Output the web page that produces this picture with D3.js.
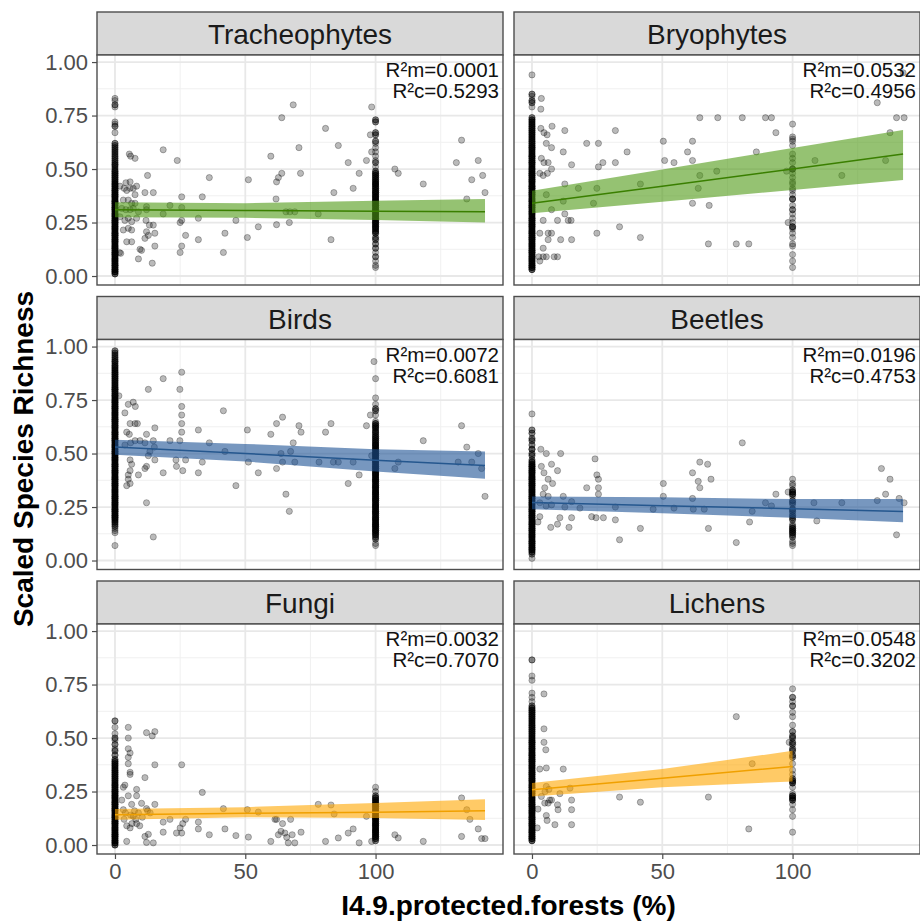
<!DOCTYPE html>
<html>
<head>
<meta charset="utf-8">
<script src="https://cdn.jsdelivr.net/npm/d3@7"></script>
<style>
  html, body { margin: 0; padding: 0; background: #ffffff; }
  svg { display: block; font-family: "Liberation Sans", Arial, sans-serif; }
</style>
</head>
<body>
<script>
// ---- Facets and annotations ----
const taxa = ["Tracheophytes", "Bryophytes", "Birds", "Beetles", "Fungi", "Lichens"];
const r2Marginal = ["0.0001", "0.0532", "0.0072", "0.0196", "0.0032", "0.0548"];
const r2Conditional = ["0.5293", "0.4956", "0.6081", "0.4753", "0.7070", "0.3202"];
const bandColors = ["green", "green", "blue", "blue", "orange", "orange"];
const xTicks = [0, 50, 100];
const xMinor = [25, 75, 125];
const yTicks = [0, 0.25, 0.5, 0.75, 1];
const yMinor = [0.125, 0.375, 0.625, 0.875];
const xTitle = "I4.9.protected.forests (%)";
const yTitle = "Scaled Species Richness";

// ---- Tracheophytes ----
// sites at 0 % and 100 %: [richness, number of sites]
const tracheoAtZero = [[0.01,3],[0.02,4],[0.03,4],[0.04,3],[0.05,4],[0.06,3],[0.07,4],[0.08,4],[0.09,3],[0.10,4],[0.11,4],[0.12,3],[0.13,4],[0.14,4],[0.15,3],[0.16,4],[0.17,4],[0.18,3],[0.19,4],[0.20,4],[0.21,3],[0.22,4],[0.23,4],[0.24,3],[0.25,4],[0.26,4],[0.27,3],[0.28,4],[0.29,4],[0.30,3],[0.31,4],[0.32,4],[0.33,3],[0.34,4],[0.35,4],[0.36,3],[0.37,4],[0.38,4],[0.39,3],[0.40,4],[0.41,3],[0.42,3],[0.43,4],[0.44,3],[0.45,3],[0.46,3],[0.47,3],[0.48,3],[0.49,3],[0.50,2],[0.51,2],[0.52,3],[0.53,2],[0.54,2],[0.55,2],[0.56,2],[0.57,2],[0.58,2],[0.59,2],[0.60,2],[0.61,2],[0.62,2],[0.67,1],[0.70,2],[0.71,1],[0.72,1],[0.79,1],[0.80,2],[0.82,1],[0.83,1]];
const tracheoAt100 = [[0.04,1],[0.05,1],[0.07,1],[0.09,2],[0.11,1],[0.13,2],[0.15,2],[0.17,2],[0.18,2],[0.20,3],[0.21,3],[0.22,3],[0.23,4],[0.24,3],[0.25,4],[0.26,3],[0.27,4],[0.28,3],[0.29,4],[0.30,3],[0.31,4],[0.32,3],[0.33,4],[0.34,3],[0.35,4],[0.36,3],[0.37,4],[0.38,3],[0.39,4],[0.40,3],[0.41,3],[0.42,3],[0.43,4],[0.44,3],[0.45,3],[0.46,3],[0.47,3],[0.48,3],[0.49,2],[0.51,1],[0.53,2],[0.54,1],[0.56,1],[0.58,1],[0.60,1],[0.62,1],[0.63,2],[0.66,2],[0.67,2],[0.72,2],[0.73,2]];
const tracheoScatter = [[5.5,0.57],[6,0.56],[7.7,0.55],[1.7,0.11],[18.5,0.59],[23.9,0.54],[12.5,0.47],[11.5,0.39],[14.7,0.39],[36.2,0.46],[33.5,0.37],[25.6,0.37],[21.1,0.33],[18.5,0.29],[25.6,0.32],[25.6,0.26],[25,0.25],[32,0.27],[27.1,0.19],[32,0.17],[25,0.11],[25.6,0.14],[15.3,0.14],[9,0.08],[14.3,0.06],[10.2,0.12],[41.6,0.11],[42.2,0.20],[46.4,0.26],[50.8,0.18],[51.2,0.45],[55,0.23],[59.8,0.56],[62,0.44],[62.7,0.46],[64,0.48],[61.8,0.36],[62,0.24],[64,0.74],[68.4,0.80],[70.6,0.60],[71.2,0.48],[65.6,0.30],[67.1,0.30],[69,0.30],[66.9,0.25],[78,0.29],[80.8,0.69],[82.9,0.17],[84,0.39],[85.7,0.61],[89.5,0.53],[91.4,0.41],[93.7,0.48],[96.5,0.54],[98.5,0.79],[98,0.66],[98.5,0.58],[107.4,0.50],[108.7,0.48],[118.3,0.43],[131,0.53],[133,0.635],[139.4,0.54],[136.9,0.45],[141.1,0.47],[142,0.39],[135,0.36],
  [1.9,0.42],[3.5,0.41],[4.5,0.40],[5.8,0.41],[7,0.41],[8.3,0.42],[3.2,0.355],[5.1,0.355],[6.4,0.34],[7.7,0.34],[2.6,0.316],[4.2,0.31],[5.8,0.31],[7,0.316],[9,0.30],[12.1,0.324],[12.1,0.31],[1.9,0.277],[3.8,0.26],[5.1,0.27],[6.4,0.254],[8.3,0.27],[11.9,0.26],[13.2,0.238],[14.7,0.238],[3.2,0.215],[5.1,0.223],[6.4,0.215],[12.1,0.207],[15.3,0.2],[4.5,0.16],[6.4,0.16],[11.5,0.176],[12.8,0.19],[9.6,0.125],[2.2,0.106],[5.8,0.44],[4.2,0.436],[7.7,0.38]];
const tracheoFitX = [0, 50, 100, 142];
const tracheoFit = [0.31, 0.306, 0.303, 0.30];
const tracheoLower = [0.275, 0.272, 0.262, 0.25];
const tracheoUpper = [0.345, 0.34, 0.352, 0.36];

// ---- Bryophytes ----
const bryoAtZero = [[0.03,3],[0.04,4],[0.05,4],[0.06,3],[0.07,4],[0.08,4],[0.09,4],[0.10,3],[0.11,4],[0.12,4],[0.13,3],[0.14,4],[0.15,4],[0.16,3],[0.17,4],[0.18,4],[0.19,3],[0.20,4],[0.21,4],[0.22,3],[0.23,4],[0.24,4],[0.25,3],[0.26,4],[0.27,4],[0.28,3],[0.29,4],[0.30,4],[0.31,3],[0.32,4],[0.33,4],[0.34,3],[0.35,4],[0.36,4],[0.37,3],[0.38,4],[0.39,4],[0.40,3],[0.41,4],[0.42,4],[0.43,3],[0.44,4],[0.45,4],[0.46,3],[0.47,4],[0.48,4],[0.49,3],[0.50,4],[0.51,3],[0.52,3],[0.53,4],[0.54,3],[0.55,3],[0.56,4],[0.57,3],[0.58,3],[0.59,3],[0.60,4],[0.61,3],[0.62,3],[0.63,3],[0.64,3],[0.65,3],[0.66,3],[0.67,3],[0.68,3],[0.69,3],[0.70,3],[0.71,3],[0.72,3],[0.73,3],[0.74,2],[0.79,1],[0.81,2],[0.82,2],[0.84,1],[0.85,2],[0.94,1]];
const bryoAt100 = [[0.04,1],[0.07,1],[0.10,1],[0.14,1],[0.15,1],[0.18,1],[0.20,1],[0.22,1],[0.23,3],[0.25,1],[0.27,1],[0.29,1],[0.31,2],[0.33,1],[0.36,3],[0.38,1],[0.40,1],[0.41,1],[0.43,1],[0.44,1],[0.46,1],[0.48,1],[0.50,3],[0.53,1],[0.55,1],[0.57,1],[0.61,1],[0.63,1],[0.64,1],[0.65,1],[0.71,1]];
const bryoScatter = [[3.6,0.83],[3.4,0.78],[7.7,0.70],[3.4,0.69],[4.6,0.67],[5.8,0.66],[12.6,0.68],[5.5,0.62],[7.5,0.60],[12,0.58],[3.6,0.55],[4.6,0.53],[6.2,0.53],[7.5,0.50],[5.9,0.48],[4.3,0.47],[3,0.48],[15.2,0.52],[12.6,0.43],[17.8,0.41],[21,0.62],[25.5,0.62],[32,0.68],[27.2,0.53],[25.5,0.51],[32,0.53],[36.5,0.58],[24.9,0.41],[23.6,0.34],[12,0.35],[5.5,0.38],[7.5,0.31],[12.6,0.29],[4.3,0.26],[9.8,0.26],[13.9,0.26],[15,0.26],[3,0.20],[6.2,0.20],[7.5,0.20],[6.2,0.17],[11,0.17],[15.2,0.17],[4.3,0.13],[24.9,0.20],[33.6,0.23],[41.6,0.18],[41.6,0.43],[50.4,0.63],[50.9,0.54],[54.5,0.53],[59.7,0.58],[61.6,0.63],[61.6,0.54],[64.4,0.74],[71.3,0.74],[80.7,0.74],[89.6,0.74],[91.9,0.74],[93.6,0.67],[86.1,0.58],[64.4,0.47],[70.9,0.49],[63.8,0.41],[61.6,0.34],[68,0.33],[67.7,0.15],[78.4,0.15],[83.2,0.15],[97.7,0.49],[108.6,0.54],[118.9,0.47],[132.5,0.81],[135.7,0.54],[137.4,0.67],[139.9,0.74],[142.8,0.74],[142.4,0.95],[4.3,0.09],[5.5,0.09],[8.5,0.09],[9.8,0.09],[2.6,0.09],[3,0.07],[98.3,0.25]];
const bryoFitX = [0, 50, 100, 142.4];
const bryoFit = [0.34, 0.42, 0.50, 0.57];
const bryoLower = [0.293, 0.347, 0.402, 0.449];
const bryoUpper = [0.399, 0.498, 0.598, 0.682];

// ---- Birds ----
const birdsAtZero = [[0.07,1],[0.13,1],[0.14,1],[0.15,1],[0.16,2],[0.17,2],[0.18,3],[0.19,3],[0.20,4],[0.21,4],[0.22,3],[0.23,4],[0.24,4],[0.25,3],[0.26,4],[0.27,4],[0.28,3],[0.29,4],[0.30,4],[0.31,3],[0.32,4],[0.33,4],[0.34,3],[0.35,4],[0.36,4],[0.37,3],[0.38,4],[0.39,4],[0.40,3],[0.41,4],[0.42,4],[0.43,3],[0.44,4],[0.45,4],[0.46,3],[0.47,4],[0.48,4],[0.49,3],[0.50,4],[0.51,4],[0.52,3],[0.53,4],[0.54,4],[0.55,3],[0.56,4],[0.57,4],[0.58,3],[0.59,4],[0.60,4],[0.61,3],[0.62,4],[0.63,4],[0.64,3],[0.65,4],[0.66,4],[0.67,3],[0.68,4],[0.69,4],[0.70,3],[0.71,4],[0.72,4],[0.73,3],[0.74,4],[0.75,4],[0.76,3],[0.77,4],[0.78,3],[0.79,3],[0.80,4],[0.81,3],[0.82,3],[0.83,3],[0.84,3],[0.85,3],[0.86,3],[0.87,3],[0.88,3],[0.89,3],[0.90,3],[0.91,3],[0.92,2],[0.93,3],[0.94,2],[0.95,2],[0.96,2],[0.97,2],[0.98,2]];
const birdsAt100 = [[0.07,1],[0.08,1],[0.10,2],[0.11,2],[0.12,3],[0.13,3],[0.14,4],[0.15,3],[0.16,4],[0.17,4],[0.18,3],[0.19,4],[0.20,4],[0.21,3],[0.22,4],[0.23,4],[0.24,3],[0.25,4],[0.26,4],[0.27,3],[0.28,4],[0.29,4],[0.30,3],[0.31,4],[0.32,4],[0.33,3],[0.34,4],[0.35,4],[0.36,3],[0.37,4],[0.38,4],[0.39,3],[0.40,4],[0.41,4],[0.42,3],[0.43,4],[0.44,4],[0.45,3],[0.46,4],[0.47,4],[0.48,3],[0.49,4],[0.50,4],[0.51,3],[0.52,4],[0.53,3],[0.54,4],[0.55,3],[0.56,3],[0.57,3],[0.58,3],[0.59,2],[0.60,3],[0.61,2],[0.62,3],[0.63,3],[0.64,3],[0.65,1],[0.68,1],[0.70,2],[0.71,2],[0.73,1],[0.76,1],[0.85,1]];
const birdsScatter = [[1.5,0.77],[3.8,0.69],[5.1,0.73],[7,0.74],[7.8,0.72],[7.7,0.64],[8.6,0.64],[5.8,0.64],[4.5,0.60],[5.5,0.59],[3.8,0.54],[6,0.55],[7.7,0.56],[9.6,0.56],[11.5,0.55],[12.1,0.59],[15.3,0.62],[14.7,0.56],[15.1,0.53],[13.4,0.51],[15.3,0.47],[12.8,0.49],[12.1,0.44],[11.5,0.43],[9,0.40],[5.8,0.42],[5.1,0.40],[5.1,0.38],[5.8,0.36],[4.5,0.35],[5.8,0.47],[6.4,0.45],[12.1,0.27],[14.7,0.11],[18.5,0.41],[12.8,0.80],[18.5,0.85],[25.6,0.88],[24.9,0.80],[25.6,0.72],[25.6,0.68],[25.6,0.64],[25.6,0.60],[24.9,0.56],[21.1,0.56],[23.4,0.47],[23.6,0.44],[27.1,0.47],[26,0.42],[32,0.61],[32,0.41],[33.5,0.46],[36.2,0.55],[41.6,0.70],[42.2,0.51],[46.4,0.35],[50.8,0.61],[51.2,0.46],[55,0.41],[59.8,0.59],[62,0.64],[64.3,0.67],[62,0.43],[63.7,0.50],[64.3,0.46],[65.6,0.31],[66.9,0.23],[67.4,0.51],[68.4,0.55],[69,0.46],[70.6,0.63],[71.4,0.60],[78.3,0.46],[80.8,0.60],[82.9,0.64],[83.8,0.46],[85.7,0.46],[89.5,0.36],[91.4,0.46],[93.7,0.40],[96.5,0.63],[98,0.68],[98.5,0.49],[99.4,0.93],[107.4,0.43],[108.7,0.46],[118.3,0.56],[131.7,0.46],[133,0.63],[135,0.53],[136.9,0.46],[139.4,0.50],[140.7,0.43],[142,0.30]];
const birdsFitX = [0, 50, 100, 142];
const birdsFit = [0.53, 0.50, 0.469, 0.444];
const birdsLower = [0.494, 0.463, 0.416, 0.382];
const birdsUpper = [0.564, 0.545, 0.52, 0.509];

// ---- Beetles ----
const beetlesAtZero = [[0.01,1],[0.03,2],[0.04,3],[0.05,4],[0.06,4],[0.07,3],[0.08,4],[0.09,4],[0.10,3],[0.11,4],[0.12,4],[0.13,3],[0.14,4],[0.15,4],[0.16,3],[0.17,4],[0.18,4],[0.19,3],[0.20,4],[0.21,4],[0.22,3],[0.23,4],[0.24,4],[0.25,3],[0.26,4],[0.27,4],[0.28,3],[0.29,4],[0.30,4],[0.31,3],[0.32,4],[0.33,4],[0.34,3],[0.35,4],[0.36,4],[0.37,3],[0.38,4],[0.39,4],[0.40,3],[0.41,4],[0.42,4],[0.43,3],[0.44,4],[0.45,3],[0.46,3],[0.47,2],[0.49,2],[0.50,2],[0.52,3],[0.54,2],[0.56,2],[0.57,2],[0.595,2],[0.61,2],[0.685,1]];
const beetlesAt100 = [[0.07,1],[0.08,1],[0.09,1],[0.11,2],[0.12,2],[0.13,3],[0.14,3],[0.15,3],[0.16,2],[0.17,1],[0.19,2],[0.20,2],[0.21,2],[0.22,1],[0.23,2],[0.24,2],[0.26,1],[0.27,2],[0.28,2],[0.30,1],[0.31,3],[0.32,3],[0.33,2],[0.35,1],[0.36,1],[0.38,1]];
const beetlesScatter = [[3.4,0.52],[5.5,0.50],[7.5,0.45],[3.6,0.44],[4.6,0.41],[6.2,0.38],[7.9,0.36],[9.8,0.42],[11,0.50],[4.9,0.34],[4.3,0.31],[6.2,0.30],[3,0.27],[5.4,0.255],[7.5,0.26],[12,0.30],[12.6,0.25],[15.2,0.275],[18.4,0.245],[10.7,0.20],[15.2,0.20],[3,0.205],[2.3,0.18],[7.2,0.155],[9.8,0.17],[14.2,0.155],[21,0.34],[24.2,0.475],[24.9,0.40],[25.5,0.38],[25.5,0.34],[25.5,0.31],[22.9,0.205],[24.6,0.20],[27.4,0.20],[32,0.25],[32,0.19],[33.6,0.097],[41.6,0.15],[46.5,0.24],[50.4,0.36],[50.4,0.30],[54.5,0.245],[61.6,0.41],[63.8,0.37],[64.4,0.46],[67.4,0.45],[64.4,0.34],[68.7,0.38],[61.6,0.29],[61.9,0.24],[66.1,0.24],[67.7,0.15],[78.4,0.084],[80.7,0.55],[83.5,0.18],[84.5,0.23],[89.6,0.27],[91.9,0.255],[93.6,0.31],[98.3,0.32],[108.2,0.27],[109.3,0.185],[118.9,0.27],[132.5,0.28],[134.1,0.43],[135.7,0.31],[137.4,0.38],[139.9,0.12],[140.9,0.29],[142.8,0.27]];
const beetlesFitX = [0, 50, 100, 142.4];
const beetlesFit = [0.271, 0.256, 0.242, 0.229];
const beetlesLower = [0.24, 0.221, 0.20, 0.179];
const beetlesUpper = [0.299, 0.296, 0.287, 0.287];

// ---- Fungi ----
const fungiAtZero = [[0.00,3],[0.01,4],[0.02,4],[0.03,3],[0.04,4],[0.05,4],[0.06,3],[0.07,4],[0.08,4],[0.09,3],[0.10,4],[0.11,4],[0.12,3],[0.13,4],[0.14,4],[0.15,3],[0.16,4],[0.17,4],[0.18,3],[0.19,4],[0.20,4],[0.21,3],[0.22,4],[0.23,4],[0.24,3],[0.25,4],[0.26,3],[0.27,3],[0.28,4],[0.29,3],[0.30,3],[0.31,3],[0.32,3],[0.33,3],[0.34,3],[0.35,3],[0.36,3],[0.37,3],[0.38,3],[0.39,3],[0.40,2],[0.42,2],[0.44,2],[0.45,1],[0.47,2],[0.49,1],[0.50,2],[0.52,1],[0.55,1],[0.58,2]];
const fungiAt100 = [[0.02,2],[0.03,3],[0.04,4],[0.05,3],[0.06,4],[0.07,4],[0.08,3],[0.09,4],[0.10,4],[0.11,3],[0.12,4],[0.13,4],[0.14,3],[0.15,4],[0.16,4],[0.17,3],[0.18,4],[0.19,4],[0.20,3],[0.21,3],[0.22,3],[0.23,2],[0.25,1],[0.27,1]];
const fungiScatter = [[5.1,0.55],[5.1,0.50],[5.1,0.45],[5.8,0.43],[5.1,0.41],[5.1,0.38],[5.8,0.34],[5.8,0.33],[12.1,0.525],[14.3,0.51],[15.3,0.53],[15.3,0.375],[11.5,0.315],[8.3,0.26],[8.3,0.23],[3.8,0.28],[3.2,0.27],[5.1,0.23],[2.6,0.21],[6.4,0.19],[10.2,0.195],[12.1,0.17],[15.3,0.19],[3.2,0.165],[7,0.135],[8.3,0.10],[5.8,0.08],[4.5,0.017],[11.5,0.04],[12.8,0.05],[12.1,0.012],[14.7,0.01],[18.5,0.107],[21.1,0.12],[18.5,0.06],[23.6,0.056],[25,0.08],[25.6,0.375],[25.6,0.056],[26,0.10],[27.1,0.12],[32,0.107],[32,0.075],[33.5,0.246],[36.2,0.048],[41.6,0.17],[42.2,0.075],[46.4,0.044],[50.8,0.165],[51.2,0.037],[55,0.154],[59.8,0.017],[61.4,0.12],[62,0.12],[62.7,0.048],[63.7,0.064],[64.3,0.10],[65.2,0.056],[65.9,0.036],[66.5,0.01],[67.4,0.12],[68,0.048],[69,0.01],[71.4,0.06],[78,0.19],[80.8,0.017],[82.9,0.187],[84.1,0.145],[85.7,0.033],[89.5,0.056],[91.4,0.075],[93.7,0.01],[96.5,0.134],[98.5,0.017],[107.4,0.048],[108.7,0.033],[118.3,0.017],[133,0.22],[133,0.04],[136.2,0.12],[139.4,0.075],[140.7,0.03],[142,0.03],[135,0.165],
  [4.0,0.15],[6.0,0.14],[7.5,0.16],[9.0,0.15],[10.5,0.13],[12.5,0.16],[13.5,0.15],[3.5,0.12],[8.0,0.12],[6.5,0.10],[4.5,0.09],[9.5,0.09]];
const fungiFitX = [0, 50, 100, 142];
const fungiFit = [0.142, 0.148, 0.153, 0.16];
const fungiLower = [0.118, 0.13, 0.126, 0.117];
const fungiUpper = [0.168, 0.177, 0.196, 0.214];

// ---- Lichens ----
const lichensAtZero = [[0.02,3],[0.03,4],[0.04,4],[0.05,3],[0.06,4],[0.07,4],[0.08,3],[0.09,4],[0.10,4],[0.11,3],[0.12,4],[0.13,4],[0.14,3],[0.15,4],[0.16,4],[0.17,3],[0.18,4],[0.19,4],[0.20,3],[0.21,4],[0.22,4],[0.23,3],[0.24,4],[0.25,4],[0.26,3],[0.27,4],[0.28,4],[0.29,3],[0.30,4],[0.31,4],[0.32,3],[0.33,4],[0.34,4],[0.35,3],[0.36,4],[0.37,4],[0.38,3],[0.39,4],[0.40,4],[0.41,3],[0.42,4],[0.43,4],[0.44,3],[0.45,4],[0.46,3],[0.47,3],[0.48,4],[0.49,3],[0.50,3],[0.51,3],[0.52,3],[0.53,3],[0.54,3],[0.55,3],[0.56,3],[0.57,3],[0.58,3],[0.59,3],[0.60,3],[0.61,3],[0.62,3],[0.63,3],[0.64,3],[0.65,2],[0.67,1],[0.69,1],[0.71,1],[0.77,1],[0.79,1],[0.865,2]];
const lichensAt100 = [[0.06,1],[0.134,1],[0.165,1],[0.19,1],[0.21,3],[0.22,3],[0.23,3],[0.24,1],[0.27,1],[0.29,3],[0.30,3],[0.31,2],[0.33,1],[0.35,1],[0.38,1],[0.41,2],[0.42,2],[0.44,2],[0.45,2],[0.47,2],[0.48,2],[0.50,2],[0.51,2],[0.53,2],[0.56,1],[0.60,1],[0.62,1],[0.65,2],[0.67,1],[0.69,2],[0.73,1]];
const lichensScatter = [[4.6,0.706],[4.6,0.543],[4.6,0.48],[5.3,0.445],[3,0.355],[5.5,0.36],[12,0.355],[5.5,0.274],[14.6,0.266],[10.7,0.24],[15.2,0.21],[3.6,0.227],[4.9,0.196],[6.2,0.196],[6.8,0.21],[2.3,0.168],[9.8,0.188],[10,0.165],[15.2,0.165],[5.5,0.138],[5.8,0.115],[8.8,0.095],[15.2,0.095],[2,0.08],[33.6,0.224],[41.6,0.2],[67.7,0.224],[78.4,0.60],[84.5,0.38],[83.2,0.075],[98.7,0.48],[7.5,0.21],[5.0,0.25],[6.5,0.26]];
const lichensFitX = [0, 50, 100];
const lichensFit = [0.258, 0.312, 0.367];
const lichensLower = [0.227, 0.27, 0.297];
const lichensUpper = [0.29, 0.355, 0.44];

// ---- Colour palette for the fitted lines ----
const palette = {
  green:  { band: "#4f9a14", line: "#3a7f00" },
  blue:   { band: "#1c5294", line: "#25578e" },
  orange: { band: "#ffa600", line: "#f0a000" }
};

// ---- Assemble facet table ----
const columns0 = [tracheoAtZero, bryoAtZero, birdsAtZero, beetlesAtZero, fungiAtZero, lichensAtZero];
const columns100 = [tracheoAt100, bryoAt100, birdsAt100, beetlesAt100, fungiAt100, lichensAt100];
const scatters = [tracheoScatter, bryoScatter, birdsScatter, beetlesScatter, fungiScatter, lichensScatter];
const fitXs = [tracheoFitX, bryoFitX, birdsFitX, beetlesFitX, fungiFitX, lichensFitX];
const fits = [tracheoFit, bryoFit, birdsFit, beetlesFit, fungiFit, lichensFit];
const lowers = [tracheoLower, bryoLower, birdsLower, beetlesLower, fungiLower, lichensLower];
const uppers = [tracheoUpper, bryoUpper, birdsUpper, beetlesUpper, fungiUpper, lichensUpper];

const facets = taxa.map((name, i) => {
  const pts = [];
  columns0[i].forEach(([v, n]) => { for (let k = 0; k < n; k++) pts.push([0, v]); });
  columns100[i].forEach(([v, n]) => { for (let k = 0; k < n; k++) pts.push([100, v]); });
  scatters[i].forEach(p => pts.push(p));
  const band = fitXs[i].map((xv, j) => ({ x: xv, fit: fits[i][j], lo: lowers[i][j], hi: uppers[i][j] }));
  return { name, r2m: r2Marginal[i], r2c: r2Conditional[i], color: palette[bandColors[i]], pts, band };
});

// ---- Layout ----
const W = 920, H = 921;
const colLeft = [97, 514];
const rowTop = [12, 296.5, 581];
const panelW = 406, stripH = 43, panelH = 230;

const svg = d3.select("body").append("svg").attr("width", W).attr("height", H);

const x = d3.scaleLinear().domain([-6.9, 148.9]).range([0, panelW]);
const y = d3.scaleLinear().domain([-0.042, 1.033]).range([panelH, 0]);

const area = d3.area().x(d => x(d.x)).y0(d => y(d.lo)).y1(d => y(d.hi));
const fitLine = d3.line().x(d => x(d.x)).y(d => y(d.fit));

facets.forEach((f, i) => {
  const col = i % 2, row = Math.floor(i / 2);
  const g = svg.append("g")
    .attr("transform", `translate(${colLeft[col]},${rowTop[row] + stripH})`);

  // strip
  g.append("rect")
    .attr("x", 0).attr("y", -stripH).attr("width", panelW).attr("height", stripH)
    .attr("fill", "#d9d9d9").attr("stroke", "#4d4d4d").attr("stroke-width", 1.4);
  g.append("text")
    .attr("x", panelW / 2).attr("y", -stripH / 2 + 1)
    .attr("text-anchor", "middle").attr("dominant-baseline", "central")
    .attr("font-size", 28).attr("fill", "#1a1a1a")
    .text(f.name);

  // panel background + grid
  g.append("rect").attr("width", panelW).attr("height", panelH).attr("fill", "#ffffff");
  const clipId = "clip" + i;
  g.append("clipPath").attr("id", clipId)
    .append("rect").attr("width", panelW).attr("height", panelH);
  const inner = g.append("g").attr("clip-path", `url(#${clipId})`);

  inner.selectAll(".gx-minor").data(xMinor).join("line")
    .attr("x1", d => x(d)).attr("x2", d => x(d)).attr("y1", 0).attr("y2", panelH)
    .attr("stroke", "#f0f0f0").attr("stroke-width", 1);
  inner.selectAll(".gy-minor").data(yMinor).join("line")
    .attr("y1", d => y(d)).attr("y2", d => y(d)).attr("x1", 0).attr("x2", panelW)
    .attr("stroke", "#f0f0f0").attr("stroke-width", 1);
  inner.selectAll(".gx").data(xTicks).join("line")
    .attr("x1", d => x(d)).attr("x2", d => x(d)).attr("y1", 0).attr("y2", panelH)
    .attr("stroke", "#e8e8e8").attr("stroke-width", 1.8);
  inner.selectAll(".gy").data(yTicks).join("line")
    .attr("y1", d => y(d)).attr("y2", d => y(d)).attr("x1", 0).attr("x2", panelW)
    .attr("stroke", "#e8e8e8").attr("stroke-width", 1.8);

  // points
  inner.append("g").selectAll("circle").data(f.pts).join("circle")
    .attr("cx", d => x(d[0])).attr("cy", d => y(d[1])).attr("r", 3.1)
    .attr("fill", "rgba(0,0,0,0.27)")
    .attr("stroke", "rgba(0,0,0,0.3)").attr("stroke-width", 0.9);

  // confidence band and fitted line
  inner.append("path").datum(f.band).attr("d", area)
    .attr("fill", f.color.band).attr("fill-opacity", 0.6);
  inner.append("path").datum(f.band).attr("d", fitLine)
    .attr("fill", "none").attr("stroke", f.color.line).attr("stroke-width", 1.5);

  // R² annotations
  g.append("text").attr("x", panelW - 4).attr("y", 22)
    .attr("text-anchor", "end").attr("font-size", 20.5).attr("fill", "#111")
    .text("R²m=" + f.r2m);
  g.append("text").attr("x", panelW - 4).attr("y", 43)
    .attr("text-anchor", "end").attr("font-size", 20.5).attr("fill", "#111")
    .text("R²c=" + f.r2c);

  // border
  g.append("rect").attr("width", panelW).attr("height", panelH)
    .attr("fill", "none").attr("stroke", "#4d4d4d").attr("stroke-width", 1.4);

  // axes
  if (col === 0) {
    const ay = g.append("g").call(
      d3.axisLeft(y).tickValues(yTicks).tickFormat(d3.format(".2f")).tickSize(5).tickPadding(4));
    ay.select(".domain").remove();
    ay.selectAll(".tick line").attr("stroke", "#4d4d4d").attr("stroke-width", 1.2);
    ay.selectAll(".tick text").attr("fill", "#4d4d4d").attr("font-size", 22)
      .attr("font-family", "Liberation Sans, Arial, sans-serif");
  }
  if (row === 2) {
    const ax = g.append("g").attr("transform", `translate(0,${panelH})`).call(
      d3.axisBottom(x).tickValues(xTicks).tickFormat(d3.format("d")).tickSize(5).tickPadding(4));
    ax.select(".domain").remove();
    ax.selectAll(".tick line").attr("stroke", "#4d4d4d").attr("stroke-width", 1.2);
    ax.selectAll(".tick text").attr("fill", "#4d4d4d").attr("font-size", 22)
      .attr("font-family", "Liberation Sans, Arial, sans-serif");
  }
});

// axis titles
svg.append("text")
  .attr("x", (colLeft[0] + colLeft[1] + panelW) / 2).attr("y", 915)
  .attr("text-anchor", "middle").attr("font-size", 28).attr("font-weight", "bold")
  .attr("fill", "#000").text(xTitle);
svg.append("text")
  .attr("transform", "translate(33,459) rotate(-90)")
  .attr("text-anchor", "middle").attr("font-size", 28).attr("font-weight", "bold")
  .attr("fill", "#000").text(yTitle);
</script>
</body>
</html>
